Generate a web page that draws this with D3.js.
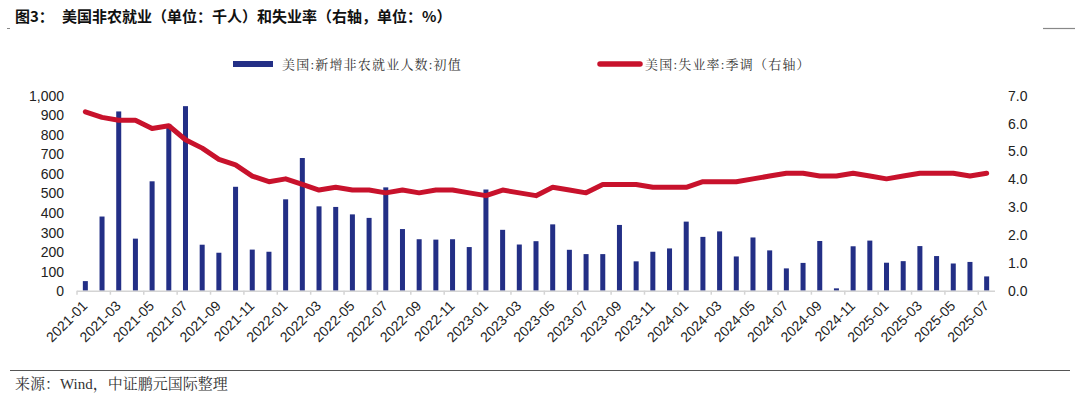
<!DOCTYPE html>
<html>
<head>
<meta charset="utf-8" />
<title>美国非农就业和失业率</title>
<script src="https://d3js.org/d3.v7.min.js"></script>
<style>
    body { margin: 0; background: #fff; }
    svg { display: block; }
    .axis text { font-family: "Liberation Sans", Arial, sans-serif; font-size: 14px; fill: #222; }
    .title { font-family: "Noto Sans CJK SC", sans-serif; font-weight: bold; font-size: 15px; fill: #111; }
    .serif { font-family: "Liberation Serif", "Noto Serif CJK SC", "Noto Sans CJK SC", serif; fill: #333; }
</style>
</head>
<body>
<div id="holder"></div>
<script>
    //Data
    const months = [];
    for (let y = 2021; y <= 2025; y++) {
        for (let m = 1; m <= 12; m++) {
            if (y === 2025 && m > 7) break;
            months.push(y + "-" + String(m).padStart(2, "0"));
        }
    }
    // 美国:新增非农就业人数:初值 (千人)
    const payrolls = [
        49, 379, 916, 266, 559, 850, 943, 235, 194, 531, 210, 199,
        467, 678, 431, 428, 390, 372, 528, 315, 263, 261, 263, 223,
        517, 311, 236, 253, 339, 209, 187, 187, 336, 150, 199, 216,
        353, 275, 303, 175, 272, 206, 114, 142, 254, 12, 227, 256,
        143, 151, 228, 177, 139, 147, 73
    ];
    // 美国:失业率:季调 (%)
    const unemployment = [
        6.4, 6.2, 6.1, 6.1, 5.8, 5.9, 5.4, 5.1, 4.7, 4.5, 4.1, 3.9,
        4.0, 3.8, 3.6, 3.7, 3.6, 3.6, 3.5, 3.6, 3.5, 3.6, 3.6, 3.5,
        3.4, 3.6, 3.5, 3.4, 3.7, 3.6, 3.5, 3.8, 3.8, 3.8, 3.7, 3.7,
        3.7, 3.9, 3.9, 3.9, 4.0, 4.1, 4.2, 4.2, 4.1, 4.1, 4.2, 4.1,
        4.0, 4.1, 4.2, 4.2, 4.2, 4.1, 4.2
    ];
    const leftTicks = [0, 100, 200, 300, 400, 500, 600, 700, 800, 900, 1000];
    const rightTicks = [0, 1, 2, 3, 4, 5, 6, 7];
    const xLabels = months.filter((d, i) => i % 2 === 0);

    //Variables
    const w = 1080;
    const h = 395;
    const plotLeft = 77, plotRight = 995, plotTop = 95, plotBottom = 290.7;
    const barColor = "#232f86";
    const lineColor = "#c8122c";

    const svg = d3.select("#holder")
        .append("svg")
        .attr("width", w)
        .attr("height", h);

    //Scales
    const xScale = d3.scaleBand()
        .domain(months)
        .range([plotLeft, plotRight])
        .paddingInner(0.7)
        .paddingOuter(0.35);
    const yLeft = d3.scaleLinear().domain([0, 1000]).range([plotBottom, plotTop]);
    const yRight = d3.scaleLinear().domain([0, 7]).range([plotBottom, plotTop]);

    //Title
    svg.append("text").attr("class", "title").attr("x", 15).attr("y", 22).text("图3：");
    svg.append("text").attr("class", "title").attr("x", 62).attr("y", 22)
        .text("美国非农就业（单位：千人）和失业率（右轴，单位：%）");
    svg.append("line").attr("x1", 7).attr("x2", 10).attr("y1", 28.5).attr("y2", 28.5)
        .attr("stroke", "#888").attr("stroke-width", 1);
    svg.append("line").attr("x1", 1043).attr("x2", 1075).attr("y1", 28.5).attr("y2", 28.5)
        .attr("stroke", "#888").attr("stroke-width", 1.2);

    //Legend
    svg.append("rect").attr("x", 233).attr("y", 61).attr("width", 40).attr("height", 6).attr("fill", barColor);
    svg.append("text").attr("class", "serif").attr("x", 282).attr("y", 69)
        .style("font-size", "13px").style("letter-spacing", "1.2px")
        .text("美国:新增非农就业人数:初值");
    svg.append("line").attr("x1", 600).attr("x2", 640).attr("y1", 64).attr("y2", 64)
        .attr("stroke", lineColor).attr("stroke-width", 5.5).attr("stroke-linecap", "round");
    svg.append("text").attr("class", "serif").attr("x", 645).attr("y", 69)
        .style("font-size", "13px").style("letter-spacing", "1.2px")
        .text("美国:失业率:季调（右轴）");

    //Left axis
    const yAxisL = svg.append("g")
        .attr("class", "axis")
        .attr("transform", "translate(" + (plotLeft - 13) + ",0)")
        .call(d3.axisLeft(yLeft).tickValues(leftTicks).tickSize(0).tickFormat(d3.format(",")));
    yAxisL.select(".domain").remove();
    yAxisL.selectAll("text").attr("x", 0).attr("dy", "0.36em");

    //Right axis
    const yAxisR = svg.append("g")
        .attr("class", "axis")
        .attr("transform", "translate(1008,0)")
        .call(d3.axisRight(yRight).tickValues(rightTicks).tickSize(0).tickFormat(d3.format(".1f")));
    yAxisR.select(".domain").remove();
    yAxisR.selectAll("text").attr("x", 0).attr("dy", "0.36em");

    //Bars
    svg.selectAll("rect.bar")
        .data(payrolls)
        .enter()
        .append("rect")
        .attr("class", "bar")
        .attr("x", (d, i) => xScale(months[i]))
        .attr("y", d => yLeft(d))
        .attr("width", xScale.bandwidth())
        .attr("height", d => yLeft(0) - yLeft(d))
        .attr("fill", barColor);

    //X axis line and ticks at category boundaries
    svg.append("line")
        .attr("x1", plotLeft).attr("x2", plotRight)
        .attr("y1", plotBottom + 0.5).attr("y2", plotBottom + 0.5)
        .attr("stroke", "#d4d4d4").attr("stroke-width", 1.5);
    svg.selectAll("line.xtick")
        .data(xLabels)
        .enter()
        .append("line")
        .attr("class", "xtick")
        .attr("x1", d => xScale(d) - xScale.step() * 0.35)
        .attr("x2", d => xScale(d) - xScale.step() * 0.35)
        .attr("y1", plotBottom).attr("y2", plotBottom + 4)
        .attr("stroke", "#d4d4d4").attr("stroke-width", 1.5);

    //X labels
    const xAxis = svg.append("g").attr("class", "axis");
    xAxis.selectAll("text")
        .data(xLabels)
        .enter()
        .append("text")
        .attr("text-anchor", "end")
        .attr("transform", d => "translate(" + (xScale(d) + xScale.bandwidth() / 2 + 3) + "," + (plotBottom + 16) + ") rotate(-45)")
        .text(d => d);

    //Unemployment line
    const line = d3.line()
        .x((d, i) => xScale(months[i]) + xScale.bandwidth() / 2)
        .y(d => yRight(d));
    svg.append("path")
        .datum(unemployment)
        .attr("d", line)
        .attr("fill", "none")
        .attr("stroke", lineColor)
        .attr("stroke-width", 5)
        .attr("stroke-linejoin", "round")
        .attr("stroke-linecap", "round");

    //Source
    svg.append("line").attr("x1", 10).attr("x2", 1070).attr("y1", 370.5).attr("y2", 370.5)
        .attr("stroke", "#555").attr("stroke-width", 1);
    svg.append("text").attr("class", "serif").attr("x", 15).attr("y", 389).style("font-size", "15px")
        .text("来源：Wind，中证鹏元国际整理");
</script>
</body>
</html>
